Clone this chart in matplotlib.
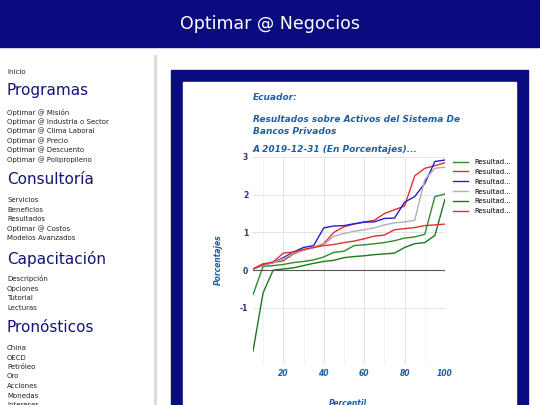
import matplotlib
matplotlib.use("Agg")
import matplotlib.pyplot as plt
from matplotlib.patches import Rectangle

percentil = [5,10,15,20,25,30,35,40,45,50,55,60,65,70,75,80,85,90,95,100]
green1 = [-0.65,0.1,0.12,0.15,0.2,0.23,0.27,0.35,0.47,0.5,0.65,0.67,0.7,0.73,0.78,0.85,0.88,0.95,1.95,2.02]
red1 = [0.03,0.17,0.2,0.25,0.43,0.53,0.6,0.7,1.0,1.15,1.22,1.28,1.32,1.5,1.6,1.7,2.5,2.7,2.77,2.85]
blue = [0.03,0.13,0.2,0.33,0.48,0.6,0.65,1.12,1.17,1.18,1.23,1.27,1.28,1.37,1.38,1.8,1.95,2.3,2.88,2.92]
grey = [0.03,0.13,0.2,0.3,0.45,0.53,0.6,0.68,0.9,0.97,1.03,1.07,1.12,1.2,1.25,1.28,1.32,2.4,2.7,2.73]
green2 = [-2.15,-0.6,0.0,0.03,0.06,0.12,0.18,0.23,0.26,0.33,0.36,0.38,0.41,0.43,0.45,0.6,0.7,0.73,0.92,1.88]
red2 = [0.03,0.15,0.22,0.45,0.48,0.55,0.6,0.65,0.68,0.73,0.77,0.83,0.9,0.93,1.07,1.1,1.13,1.18,1.2,1.22]
series = [green1, red1, blue, grey, green2, red2]
colors = ["#2e8b2e", "#e03030", "#2020d0", "#b0b0b0", "#1a7a1a", "#e03030"]
labels = ["Resultad..."] * 6

W, H = 540, 405
fig = plt.figure(figsize=(5.4, 4.05), dpi=100)
navy = "#0b0b80"

def rect(x0, y0, x1, y1, **kw):
    fig.patches.append(Rectangle((x0/W, 1-y1/H), (x1-x0)/W, (y1-y0)/H,
                                 transform=fig.transFigure, figure=fig,
                                 zorder=-5, **kw))

rect(0, 0, 540, 47, color=navy)
fig.text(270/W, 1-24/H, "Optimar @ Negocios", color="white", fontsize=12.5,
         ha="center", va="center")
rect(154, 55, 156, 405, color="#dddddd")
rect(171, 70, 528, 405, color=navy)
rect(183, 82, 516, 405, color="white")

def side(y, t, big=False):
    if big:
        fig.text(7/W, 1-y/H, t, color="#14147a", fontsize=11, va="center")
    else:
        fig.text(7/W, 1-y/H, t, color="#222222", fontsize=5, va="center")

side(72, "Inicio")
side(90, "Programas", True)
for i, t in enumerate(["Optimar @ Misión", "Optimar @ Industria o Sector",
                       "Optimar @ Clima Laboral", "Optimar @ Precio",
                       "Optimar @ Descuento", "Optimar @ Polipropileno"]):
    side(112 + 9.5*i, t)
side(180, "Consultoría", True)
for i, t in enumerate(["Servicios", "Beneficios", "Resultados",
                       "Optimar @ Costos", "Modelos Avanzados"]):
    side(200 + 9.5*i, t)
side(259, "Capacitación", True)
for i, t in enumerate(["Descripción", "Opciones", "Tutorial", "Lecturas"]):
    side(279 + 9.5*i, t)
side(328, "Pronósticos", True)
for i, t in enumerate(["China", "OECD", "Petróleo", "Oro", "Acciones",
                       "Monedas", "Intereses"]):
    side(348 + 9.5*i, t)

tc = "#1f5fa0"
for y, t in [(98, "Ecuador:"), (119, "Resultados sobre Activos del Sistema De"),
             (131, "Bancos Privados"), (150, "A 2019-12-31 (En Porcentajes)...")]:
    fig.text(253/W, 1-y/H, t, color=tc, fontsize=6.5, fontweight="bold",
             style="italic", va="center")

ax = fig.add_axes([253/W, 1-364/H, 192/W, 207/H])
ax.patch.set_alpha(0)
for i, s in enumerate(series):
    ax.plot(percentil, s, color=colors[i], lw=1, label=labels[i])
ax.set_xlim(5, 100)
ax.set_ylim(-2.49, 3)
ax.axhline(0, color="#555555", lw=0.8)
ax.set_xticks([20, 40, 60, 80, 100])
ax.set_xticks(range(10, 100, 10), minor=True)
ax.set_yticks([-1, 0, 1, 2, 3])
ax.set_yticklabels(["-1", "0", "1", "2", "3"])
ax.grid(True, which="major", color="#e4e4e4", lw=0.7)
ax.grid(True, which="minor", axis="x", color="#f0f0f0", lw=0.6)
ax.set_axisbelow(True)
for sp in ax.spines.values():
    sp.set_visible(False)
ax.tick_params(which="both", length=0, labelsize=5.5, labelcolor="#1f5fa0")
for lab in ax.get_xticklabels():
    lab.set_fontweight("bold"); lab.set_style("italic")
for lab in ax.get_yticklabels():
    lab.set_fontweight("bold"); lab.set_color("#333377")
ax.legend(loc="upper left", bbox_to_anchor=(1.01, 1.02), frameon=False,
          fontsize=5, handlelength=2.2, labelspacing=0.55)
fig.text(218/W, 1-260/H, "Porcentajes", rotation=90, color=tc, fontsize=5.5,
         fontweight="bold", style="italic", ha="center", va="center")
fig.text(348/W, 1-403/H, "Percentil", color=tc, fontsize=5.5,
         fontweight="bold", style="italic", ha="center", va="center")
fig.savefig("out.png", dpi=100)
